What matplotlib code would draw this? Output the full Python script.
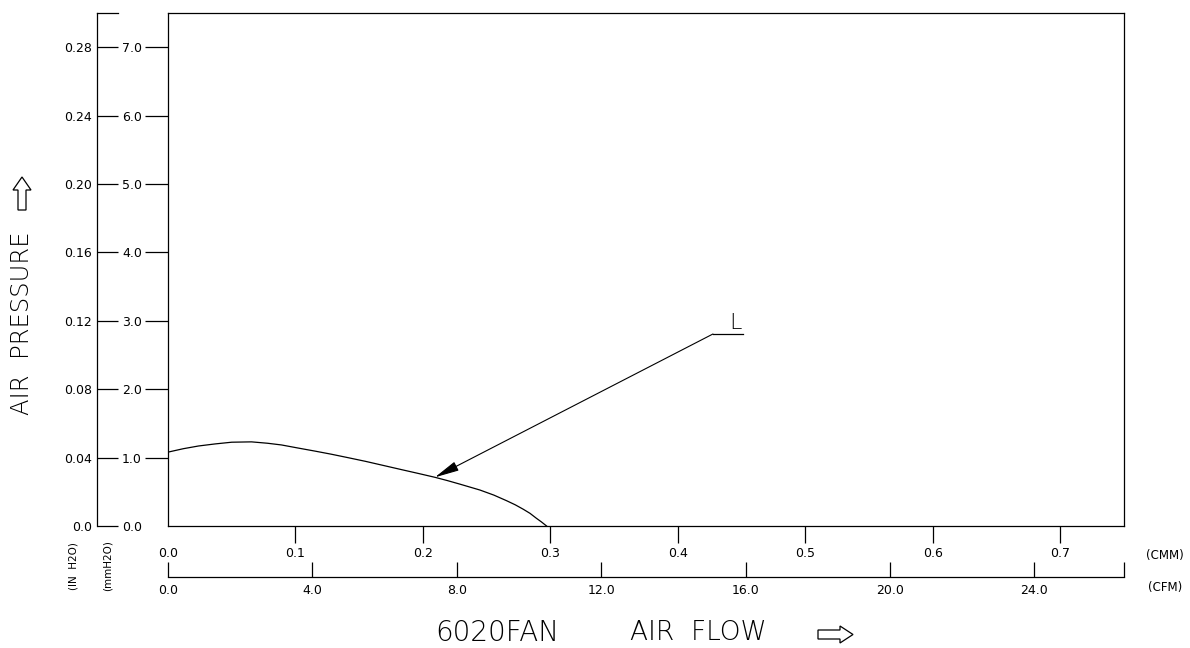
import matplotlib
matplotlib.use("Agg")
import matplotlib.pyplot as plt
from matplotlib.patches import Polygon

W, H = 1190, 648
DPI = 100
PT = 72.0 / DPI  # points per pixel

# ---- data ----
flow_cmm = [0.000, 0.012, 0.024, 0.037, 0.050, 0.0655, 0.078, 0.089, 0.102,
            0.1153, 0.128, 0.141, 0.155, 0.169, 0.183, 0.196, 0.2094, 0.219,
            0.229, 0.2447, 0.2556, 0.2656, 0.2725, 0.2787, 0.284, 0.289,
            0.293, 0.297]
pressure_mm = [1.08, 1.13, 1.17, 1.20, 1.225, 1.23, 1.21, 1.185, 1.14,
               1.095, 1.05, 1.00, 0.945, 0.885, 0.825, 0.77, 0.712, 0.665,
               0.612, 0.526, 0.452, 0.37, 0.309, 0.245, 0.185, 0.113,
               0.059, 0.0]

mm_ticks = [0, 1, 2, 3, 4, 5, 6, 7]
mm_labels = ["0.0", "1.0", "2.0", "3.0", "4.0", "5.0", "6.0", "7.0"]
inch_labels = ["0.0", "0.04", "0.08", "0.12", "0.16", "0.20", "0.24", "0.28"]
cmm_ticks = [0.0, 0.1, 0.2, 0.3, 0.4, 0.5, 0.6, 0.7]
cmm_labels = ["0.0", "0.1", "0.2", "0.3", "0.4", "0.5", "0.6", "0.7"]
cfm_ticks = [0, 4, 8, 12, 16, 20, 24]
cfm_labels = ["0.0", "4.0", "8.0", "12.0", "16.0", "20.0", "24.0"]
CFM_TO_CMM = 0.0283168

curve_label = "L"
label_anchor = (0.4275, 2.807)   # leader start (data units)
label_target = (0.2094, 0.712)   # point on curve
leader_end_x = 0.451

XMAX, YMAX = 0.75, 7.5

plt.rcParams['font.family'] = ["DejaVu Sans"]

def fx(px):
    return px / W

def fy(py):
    return 1 - py / H

LW = 0.9
TICK_FS = 9

fig = plt.figure(figsize=(W / DPI, H / DPI), dpi=DPI)

left, right, top, bottom = 168, 1124, 13, 526
ax = fig.add_axes([fx(left), fy(bottom), (right - left) / W, (bottom - top) / H])
ax.set_xlim(0, XMAX)
ax.set_ylim(0, YMAX)
for s in ax.spines.values():
    s.set_linewidth(LW)
    s.set_color("black")

ax.plot(flow_cmm, pressure_mm, color="black", lw=LW, solid_joinstyle="round")

# annotation leader
ax.plot([label_anchor[0], leader_end_x], [label_anchor[1], label_anchor[1]],
        color="black", lw=LW)
ax.annotate("", xy=label_target, xytext=label_anchor,
            arrowprops=dict(arrowstyle="-|>,head_length=1.0,head_width=0.2",
                            color="black", lw=0.8, mutation_scale=15,
                            shrinkA=0, shrinkB=0))
ax.text(0.4405, label_anchor[1] + 0.07, curve_label, fontsize=16,
        ha="left", va="baseline", color="black", fontweight="light")

# main axes ticks
ax.set_yticks(mm_ticks)
ax.set_yticklabels(mm_labels)
ax.tick_params(axis="y", direction="out", length=23 * PT, width=LW,
               pad=3 * PT, labelsize=TICK_FS)
ax.yaxis.get_major_ticks()[0].tick1line.set_visible(False)
ax.set_xticks(cmm_ticks)
ax.set_xticklabels(cmm_labels)
ax.tick_params(axis="x", direction="out", length=17 * PT, width=LW,
               pad=4 * PT, labelsize=TICK_FS)
ax.xaxis.get_major_ticks()[0].tick1line.set_visible(False)

# inch axis (left)
ax_in = fig.add_axes([fx(97), fy(bottom), 21 / W, (bottom - top) / H])
ax_in.set_ylim(0, YMAX)
ax_in.set_xlim(0, 1)
ax_in.patch.set_visible(False)
for k in ["right", "bottom"]:
    ax_in.spines[k].set_visible(False)
ax_in.spines["left"].set_linewidth(LW)
ax_in.spines["top"].set_linewidth(LW)
ax_in.set_xticks([])
ax_in.set_yticks(mm_ticks)
ax_in.set_yticklabels(inch_labels)
ax_in.tick_params(axis="y", direction="in", length=21 * PT, width=LW,
                  pad=5 * PT, labelsize=TICK_FS)

# CFM axis
cfm_y = 577
ax_cfm = fig.add_axes([fx(left), fy(cfm_y), (right - left) / W, 0.001])
ax_cfm.set_xlim(0, XMAX / CFM_TO_CMM)
ax_cfm.patch.set_visible(False)
for k in ["left", "right", "top"]:
    ax_cfm.spines[k].set_visible(False)
ax_cfm.spines["bottom"].set_linewidth(LW)
ax_cfm.set_yticks([])
ax_cfm.set_xticks(cfm_ticks)
ax_cfm.set_xticklabels(cfm_labels)
ax_cfm.set_xticks([XMAX / CFM_TO_CMM], minor=True)
ax_cfm.tick_params(axis="x", which="both", direction="in", length=15 * PT,
                   width=LW, pad=7 * PT, labelsize=TICK_FS)

# unit labels
fig.text(fx(1146), fy(555), "(CMM)", fontsize=8.5, ha="left", va="center")
fig.text(fx(1148), fy(588), "(CFM)", fontsize=8.5, ha="left", va="center")
fig.text(fx(73), fy(566), "(IN  H2O)", fontsize=7.5, rotation=90,
         ha="center", va="center")
fig.text(fx(108), fy(566), "(mmH2O)", fontsize=7.5, rotation=90,
         ha="center", va="center")

# axis titles
fig.text(fx(22), fy(323), "AIR  PRESSURE", fontsize=17.5, rotation=90,
         ha="center", va="center", fontweight="light")
fig.text(fx(435), fy(633), "6020FAN", fontsize=20, ha="left", va="center",
         fontweight="light")
fig.text(fx(630), fy(633), "AIR  FLOW", fontsize=19, ha="left", va="center",
         fontweight="light")

# hollow arrows
def arrow_poly(pts):
    p = Polygon([(fx(x), fy(y)) for x, y in pts], closed=True, fill=False,
                edgecolor="black", lw=LW, transform=fig.transFigure)
    fig.add_artist(p)

# right arrow
arrow_poly([(818, 630), (840, 630), (840, 626), (853, 634.5),
            (840, 643), (840, 639), (818, 639)])
# up arrow
arrow_poly([(18, 210), (18, 190), (13, 190), (22, 177),
            (31, 190), (26, 190), (26, 210)])

fig.savefig("out.png", dpi=DPI, facecolor="white")
